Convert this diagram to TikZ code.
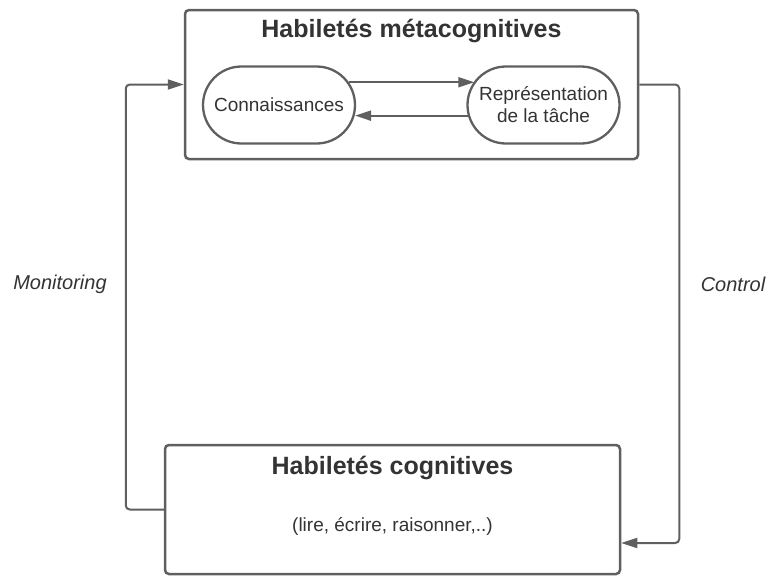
\documentclass[tikz,border=0pt]{standalone}
\usepackage{fontspec}
\setmainfont{Liberation Sans}
\usetikzlibrary{arrows.meta, shapes.misc, positioning, calc}
\definecolor{linegray}{HTML}{5F5F5F}
\definecolor{textgray}{HTML}{333333}

\begin{document}
\begin{tikzpicture}[x=1pt, y=-1pt,
skillbox/.style={draw=linegray, line width=2.5pt, rounded corners=4pt, inner sep=0pt},
oval/.style={draw=linegray, line width=2.3pt, rounded rectangle, minimum width=152pt, minimum height=77pt, inner sep=0pt, align=center, text=textgray, font=\fontsize{19}{22}\selectfont},
boxtitle/.style={text=textgray, font=\fontsize{25}{30}\selectfont\bfseries, inner sep=0pt},
boxtext/.style={text=textgray, font=\fontsize{19}{22}\selectfont, inner sep=0pt},
looplabel/.style={text=textgray, font=\fontsize{20}{24}\selectfont\itshape, inner sep=0pt},
link/.style={draw=linegray, line width=2pt, -{Triangle[length=16pt, width=10pt]}},
loop/.style={link, rounded corners=4pt}]
\useasboundingbox (0,0) rectangle (770,576);

\node[skillbox, minimum width=453pt, minimum height=149pt] (meta) at (411.5,84.5) {};
\node[boxtitle] (metatitle) at ($(meta.north)+(0,22)$) {Habiletés métacognitives};
\node[oval] (conn) at (279,105) {Connaissances};
\node[oval] (rep) at (543.5,105) {Représentation\\de la tâche};
\draw[link] (conn.18.6) -- (conn.18.6 -| rep.161.4);
\draw[link] (rep.-172.4) -- (rep.-172.4 -| conn.-7.6);

\node[skillbox, minimum width=455pt, minimum height=129pt] (cog) at (392.5,509.5) {};
\node[boxtitle] (cogtitle) at ($(cog.north)+(0,24)$) {Habiletés cognitives};
\node[boxtext] (cogtext) at ($(cog.north)+(0,83)$) {(lire, écrire, raisonner,..)};

\draw[loop] (cog.west) -- ++(-38,0) |- (meta.west);
\draw[loop] (meta.east) -- ++(40,0) |- ([yshift=-33.5pt]cog.east);

\node[looplabel] (monitoring) at (60,284) {Monitoring};
\node[looplabel] (control) at (733,284) {Control};
\end{tikzpicture}
\end{document}
